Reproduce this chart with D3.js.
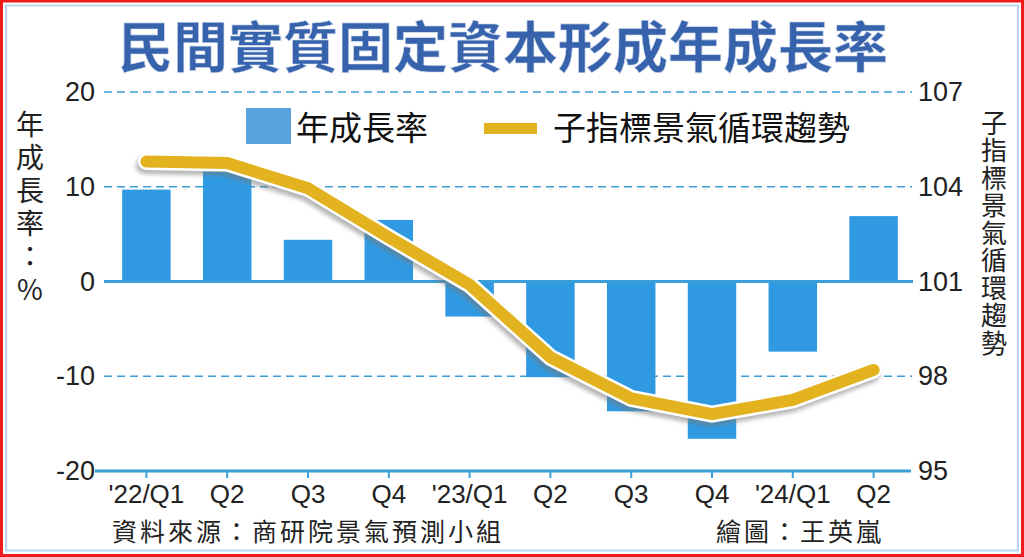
<!DOCTYPE html>
<html>
<head>
<meta charset="utf-8">
<script src="https://cdn.jsdelivr.net/npm/d3@7"></script>
<style>
  html, body { margin: 0; padding: 0; background: #fff; }
  svg { display: block; }
  .cjk { font-family: "Noto Sans CJK TC", "Noto Sans CJK SC", sans-serif; }
  .num { font-family: "Liberation Sans", Arial, sans-serif; }
  .vert { writing-mode: vertical-rl; text-orientation: upright; }
</style>
</head>
<body>
<div id="chart"></div>
<script>
const quarters = ["'22/Q1", "Q2", "Q3", "Q4", "'23/Q1", "Q2 ", "Q3 ", "Q4 ", "'24/Q1", "Q2  "];
const growth = [9.7, 11.6, 4.4, 6.5, -3.7, -10.1, -13.7, -16.6, -7.4, 6.9];
const cycleTrend = [104.8, 104.75, 103.95, 102.4, 100.9, 98.6, 97.3, 96.8, 97.25, 98.2];
const leftTicks = [20, 10, 0, -10, -20];
const rightTicks = [107, 104, 101, 98, 95];

const W = 1024, H = 557;
const plot = { left: 106, right: 914, top: 92, bottom: 471 };

const svg = d3.select("#chart").append("svg")
  .attr("width", W).attr("height", H);

// frame
svg.append("rect").attr("x", 1.5).attr("y", 1).attr("width", W - 3).attr("height", H - 2.5)
  .attr("fill", "#fff").attr("stroke", "#ee1c1c").attr("stroke-width", 3);
svg.append("rect").attr("x", 6).attr("y", 5.5).attr("width", W - 12).attr("height", H - 12)
  .attr("fill", "none").attr("stroke", "#b9d6ee").attr("stroke-width", 2);

const defs = svg.append("defs");
defs.append("filter").attr("id", "shadow")
  .append("feGaussianBlur").attr("stdDeviation", 2);

// title
svg.append("text").attr("class", "cjk")
  .attr("x", 503).attr("y", 67)
  .attr("text-anchor", "middle")
  .attr("font-size", 55).attr("font-weight", 700)
  .attr("fill", "#3762ac")
  .attr("stroke", "#c9d6ec").attr("stroke-width", 0.6)
  .text("民間實質固定資本形成年成長率");

const x = d3.scaleBand().domain(quarters).range([plot.left, plot.right])
  .paddingInner(0.4).paddingOuter(0.2);
const yL = d3.scaleLinear().domain([-20, 20]).range([plot.bottom, plot.top]);
const yR = d3.scaleLinear().domain([95, 107]).range([plot.bottom, plot.top]);

const lineBlue = "#3a9ed8";

// gridlines
svg.append("g").selectAll("line")
  .data(leftTicks.filter(d => d !== 0 && d !== -20))
  .join("line")
  .attr("x1", 104).attr("x2", 912)
  .attr("y1", d => yL(d)).attr("y2", d => yL(d))
  .attr("stroke", lineBlue).attr("stroke-width", 1.5)
  .attr("stroke-dasharray", "8,5");

// bars
svg.append("g").selectAll("rect")
  .data(growth)
  .join("rect")
  .attr("x", (d, i) => x(quarters[i]))
  .attr("width", x.bandwidth())
  .attr("y", d => yL(Math.max(0, d)))
  .attr("height", d => Math.abs(yL(d) - yL(0)))
  .attr("fill", "#2f9ae2");

// zero line
svg.append("line")
  .attr("x1", 104).attr("x2", 913)
  .attr("y1", yL(0)).attr("y2", yL(0))
  .attr("stroke", lineBlue).attr("stroke-width", 3);

// bottom axis
const xAxis = svg.append("g")
  .attr("transform", `translate(0,${yL(-20)})`)
  .call(d3.axisBottom(x).tickSize(7).tickSizeOuter(0).tickFormat(d => d.trim()));
xAxis.select(".domain").remove();
xAxis.selectAll(".tick line").attr("stroke", lineBlue).attr("stroke-width", 2);
xAxis.selectAll(".tick text")
  .attr("class", "num").attr("font-size", 26).attr("fill", "#222")
  .attr("dy", 0).attr("y", 32);
svg.append("line")
  .attr("x1", 95).attr("x2", 911)
  .attr("y1", yL(-20)).attr("y2", yL(-20))
  .attr("stroke", lineBlue).attr("stroke-width", 3);

// left axis
const leftAxis = svg.append("g")
  .attr("transform", "translate(95,0)")
  .call(d3.axisLeft(yL).tickValues(leftTicks).tickSize(0).tickPadding(0)
    .tickFormat(d => String(d)));
leftAxis.select(".domain").remove();
leftAxis.selectAll(".tick text")
  .attr("class", "num").attr("font-size", 27).attr("fill", "#222");

// right axis
const rightAxis = svg.append("g")
  .attr("transform", "translate(918,0)")
  .call(d3.axisRight(yR).tickValues(rightTicks).tickSize(0).tickPadding(0)
    .tickFormat(d => String(d)));
rightAxis.select(".domain").remove();
rightAxis.selectAll(".tick text")
  .attr("class", "num").attr("font-size", 27).attr("fill", "#222");

// trend line
const line = d3.line()
  .x((d, i) => x(quarters[i]) + x.bandwidth() / 2)
  .y(d => yR(d));
const lg = svg.append("g");
lg.append("path").datum(cycleTrend)
  .attr("d", line).attr("transform", "translate(-2,4)")
  .attr("fill", "none").attr("stroke", "#777").attr("stroke-opacity", 0.55)
  .attr("stroke-width", 17).attr("stroke-linejoin", "round").attr("stroke-linecap", "round")
  .attr("filter", "url(#shadow)");
lg.append("path").datum(cycleTrend)
  .attr("d", line)
  .attr("fill", "none").attr("stroke", "#fff")
  .attr("stroke-width", 17).attr("stroke-linejoin", "round").attr("stroke-linecap", "round");
lg.append("path").datum(cycleTrend)
  .attr("d", line)
  .attr("fill", "none").attr("stroke", "#e2b21f")
  .attr("stroke-width", 12).attr("stroke-linejoin", "round").attr("stroke-linecap", "round");

// legend
svg.append("rect").attr("x", 246).attr("y", 108).attr("width", 45).attr("height", 36)
  .attr("fill", "#5aa3df");
svg.append("text").attr("class", "cjk")
  .attr("x", 296).attr("y", 140).attr("font-size", 33).attr("fill", "#111")
  .text("年成長率");
svg.append("rect").attr("x", 484).attr("y", 123).attr("width", 53).attr("height", 11)
  .attr("fill", "#e2b21f");
svg.append("text").attr("class", "cjk")
  .attr("x", 553).attr("y", 140).attr("font-size", 33).attr("fill", "#111")
  .text("子指標景氣循環趨勢");

// vertical axis titles
svg.append("text").attr("class", "cjk vert")
  .attr("x", 30).attr("y", 110)
  .attr("font-size", 28).attr("letter-spacing", 5)
  .attr("fill", "#222")
  .text("年成長率：%");

svg.append("text").attr("class", "cjk vert")
  .attr("x", 994).attr("y", 110)
  .attr("font-size", 26).attr("letter-spacing", 1.5)
  .attr("fill", "#222")
  .text("子指標景氣循環趨勢");

// footer
svg.append("text").attr("class", "cjk")
  .attr("x", 112).attr("y", 541).attr("font-size", 25).attr("fill", "#222")
  .attr("letter-spacing", 3)
  .text("資料來源：商研院景氣預測小組");
svg.append("text").attr("class", "cjk")
  .attr("x", 716).attr("y", 541).attr("font-size", 25).attr("fill", "#222")
  .attr("letter-spacing", 3)
  .text("繪圖：王英嵐");
</script>
</body>
</html>
